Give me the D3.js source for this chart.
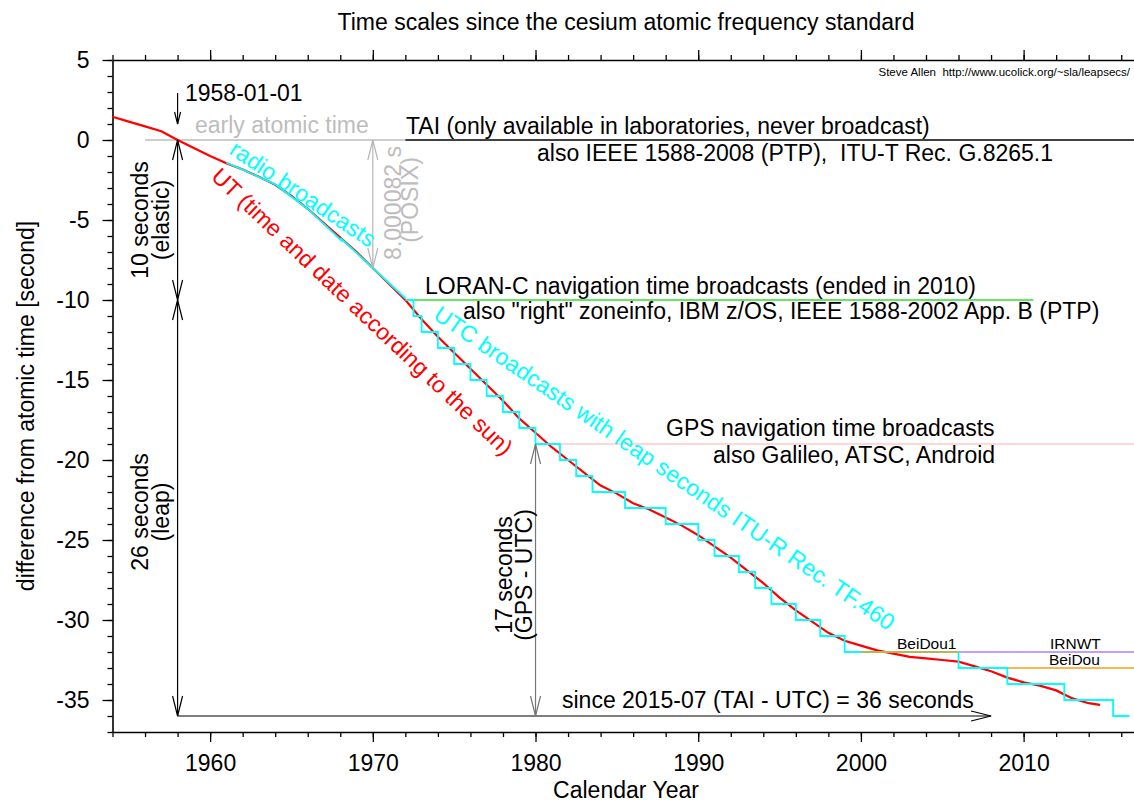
<!DOCTYPE html>
<html>
<head>
<meta charset="utf-8">
<script src="https://cdn.jsdelivr.net/npm/d3@7"></script>
<style>
    body { margin: 0; background: #fff; }
    svg { font-family: "Liberation Sans", Arial, sans-serif; }
    text { white-space: pre; }
</style>
</head>
<body>
<div id="chart"></div>
<script>
// UT1 - TAI, the red curve (seconds)
const utYears = [1954, 1955, 1956, 1957, 1958, 1959, 1960, 1961, 1962, 1963, 1964, 1965, 1966, 1967, 1968,
    1969, 1970, 1971, 1972, 1973, 1974, 1975, 1976, 1977, 1978, 1979, 1980, 1981, 1982, 1983, 1984,
    1985, 1986, 1987, 1988, 1989, 1990, 1991, 1992, 1993, 1994, 1995, 1996, 1997, 1998, 1999, 2000,
    2001, 2002, 2003, 2004, 2005, 2006, 2007, 2008, 2009, 2010, 2011, 2012, 2013, 2014, 2014.7];
const utValues = [1.45, 1.15, 0.85, 0.55, 0.0, -0.5, -1.0, -1.45, -1.85, -2.3, -2.8, -3.5, -4.3, -5.2, -6.1,
    -7.0, -8.0, -9.0, -10.0, -11.2, -12.3, -13.3, -14.3, -15.3, -16.3, -17.4, -18.3, -19.2, -20.0, -20.8, -21.6,
    -22.1, -22.7, -23.1, -23.6, -24.1, -24.7, -25.4, -26.1, -26.9, -27.7, -28.6, -29.4, -30.1, -30.8, -31.3, -31.6,
    -31.9, -32.1, -32.3, -32.4, -32.5, -32.6, -32.9, -33.2, -33.6, -33.9, -34.1, -34.4, -34.9, -35.2, -35.3];

// UTC - TAI before 1972 ("radio broadcasts", elastic seconds)
const radioYears = [1961, 1962, 1964, 1966, 1968.08, 1968.08, 1970, 1972];
const radioValues = [-1.42, -1.85, -2.77, -4.31, -6.29, -6.19, -8.0, -9.89];

// UTC - TAI with leap seconds (step after each date)
const leapYears = [1972, 1972.5, 1973, 1974, 1975, 1976, 1977, 1978, 1979, 1980, 1981.5, 1982.5, 1983.5,
    1985.5, 1988, 1990, 1991, 1992.5, 1993.5, 1994.5, 1996, 1997.5, 1999, 2006, 2009, 2012.5, 2015.5, 2016.5];
const leapValues = [-10, -11, -12, -13, -14, -15, -16, -17, -18, -19, -20, -21, -22,
    -23, -24, -25, -26, -27, -28, -29, -30, -31, -32, -33, -34, -35, -36, -36];

// constant offset time scales
const refNames = ["early", "TAI", "LORAN-C", "GPS", "BeiDou1", "BeiDou", "IRNWT"];
const refStart = [1956, 1972, 1972, 1980, 2000, 2006, 2006];
const refEnd = [1972, 2017, 2010.6, 2017, 2006, 2017, 2017];
const refValues = [0, 0, -10, -19, -32, -33, -32];

// axis ticks
const yearTicks = [1960, 1970, 1980, 1990, 2000, 2010];
const secondTicks = [5, 0, -5, -10, -15, -20, -25, -30, -35];

let chartWidth = 1134;
let chartHeight = 805;
let fontBig = "23px";

let refColor = {
    "early": "#bdbdbd",
    "TAI": "#000",
    "LORAN-C": "#33dd33",
    "GPS": "#ffb0b0",
    "BeiDou1": "#f0a020",
    "BeiDou": "#f0a020",
    "IRNWT": "#b080f0"
};

let x = d3.scaleLinear().domain([1954, 2017]).range([112.5, 1137.5]);
let y = d3.scaleLinear().domain([-37, 5]).range([732, 60]);

let svg = d3.select("#chart").append("svg")
    .attr("width", chartWidth)
    .attr("height", chartHeight);

// axes: minor ticks first, then major with labels
function styleAxis(g) {
    g.selectAll(".domain").attr("stroke-width", 1.6);
    g.selectAll(".tick line").attr("stroke-width", 1.3);
    g.selectAll(".tick text").attr("font-size", fontBig).attr("font-family", "Liberation Sans, Arial, sans-serif");
}

let plainNumber = d => String(d); // keeps the ASCII hyphen as minus sign

svg.append("g")
    .attr("transform", "translate(0," + y(-37) + ")")
    .call(d3.axisBottom(x).tickValues(d3.range(1954, 2018, 2)).tickSize(5).tickSizeOuter(0).tickFormat(() => ""))
    .call(styleAxis);
svg.append("g")
    .attr("transform", "translate(0," + y(-37) + ")")
    .call(d3.axisBottom(x).tickValues(yearTicks).tickSize(10).tickPadding(13).tickFormat(plainNumber))
    .call(styleAxis)
    .call(g => g.select(".domain").remove());

svg.append("g")
    .attr("transform", "translate(0," + y(5) + ")")
    .call(d3.axisTop(x).tickValues(d3.range(1954, 2018, 2)).tickSize(5).tickSizeOuter(0).tickFormat(() => ""))
    .call(styleAxis);
svg.append("g")
    .attr("transform", "translate(0," + y(5) + ")")
    .call(d3.axisTop(x).tickValues(yearTicks).tickSize(10).tickFormat(() => ""))
    .call(styleAxis)
    .call(g => g.select(".domain").remove());

svg.append("g")
    .attr("transform", "translate(" + x(1954) + ",0)")
    .call(d3.axisLeft(y).tickValues(d3.range(-37, 6, 1)).tickSize(5).tickSizeOuter(0).tickFormat(() => ""))
    .call(styleAxis);
svg.append("g")
    .attr("transform", "translate(" + x(1954) + ",0)")
    .call(d3.axisLeft(y).tickValues(secondTicks).tickSize(10).tickPadding(13).tickFormat(plainNumber))
    .call(styleAxis)
    .call(g => g.select(".domain").remove());

// reference lines
svg.selectAll(".ref")
    .data(refNames)
    .enter()
    .append("line")
    .attr("class", "ref")
    .attr("x1", (d, i) => x(refStart[i]))
    .attr("x2", (d, i) => x(refEnd[i]))
    .attr("y1", (d, i) => y(refValues[i]))
    .attr("y2", (d, i) => y(refValues[i]))
    .attr("stroke", d => refColor[d])
    .attr("stroke-width", d => d === "GPS" ? 1.2 : 1.6);

// UT curve
let line = d3.line()
    .x(d => x(d[0]))
    .y(d => y(d[1]));

svg.append("path")
    .datum(d3.zip(utYears, utValues))
    .attr("fill", "none")
    .attr("stroke", "#ff0000")
    .attr("stroke-width", 2.2)
    .attr("d", line);

svg.append("path")
    .datum(d3.zip(radioYears, radioValues))
    .attr("fill", "none")
    .attr("stroke", "#00ffff")
    .attr("stroke-width", 1.8)
    .attr("d", line);

svg.append("path")
    .datum(d3.zip(leapYears, leapValues))
    .attr("fill", "none")
    .attr("stroke", "#00ffff")
    .attr("stroke-width", 1.8)
    .attr("d", line.curve(d3.curveStepAfter));

// redraw BeiDou1 on top of the cyan step
svg.append("line")
    .attr("x1", x(refStart[4])).attr("x2", x(refEnd[4]))
    .attr("y1", y(refValues[4])).attr("y2", y(refValues[4]))
    .attr("stroke", refColor["BeiDou1"]).attr("stroke-width", 1.6);

// arrows with open V heads
function arrow(x1, y1, x2, y2, color, heads, len, half) {
    svg.append("line")
        .attr("x1", x1).attr("y1", y1).attr("x2", x2).attr("y2", y2)
        .attr("stroke", color).attr("stroke-width", 1.2);
    let dx = x2 - x1, dy = y2 - y1;
    let n = Math.sqrt(dx * dx + dy * dy);
    dx /= n; dy /= n;
    let ends = [];
    if (heads.indexOf("end") >= 0) ends.push([x2, y2, dx, dy]);
    if (heads.indexOf("start") >= 0) ends.push([x1, y1, -dx, -dy]);
    ends.forEach(function (e) {
        let bx = e[0] - e[2] * len, by = e[1] - e[3] * len;
        svg.append("path")
            .attr("d", "M" + (bx - e[3] * half) + "," + (by + e[2] * half) +
                "L" + e[0] + "," + e[1] +
                "L" + (bx + e[3] * half) + "," + (by - e[2] * half))
            .attr("fill", "none")
            .attr("stroke", color)
            .attr("stroke-width", 1.2);
    });
}

arrow(x(1958), 93, x(1958), y(0) - 16, "#000", ["end"], 12, 3);
arrow(x(1958), y(0), x(1958), y(-10), "#000", ["start", "end"], 20, 5);
arrow(x(1958), y(-10), x(1958), y(-36), "#000", ["start", "end"], 20, 5);
arrow(x(1958), y(-36), x(2008), y(-36), "#000", ["end"], 20, 5);
arrow(x(1970), y(0), x(1970), y(-8), "#b5b5b5", ["start", "end"], 20, 5);
arrow(x(1980), y(-19), x(1980), y(-36), "#777", ["start", "end"], 20, 5);

// text labels
function label(text, px, py, opts) {
    opts = opts || {};
    return svg.append("text")
        .attr("transform", "translate(" + px + "," + py + ")" + (opts.rotate ? " rotate(" + opts.rotate + ")" : ""))
        .attr("text-anchor", opts.anchor || "start")
        .attr("font-size", opts.size || fontBig)
        .attr("fill", opts.color || "#000")
        .text(text);
}

label("Time scales since the cesium atomic frequency standard", 626, 30, {anchor: "middle"});
label("Calendar Year", 626, 798, {anchor: "middle"});
label("difference from atomic time [second]", 34, 406, {anchor: "middle", rotate: -90});
label("Steve Allen  http://www.ucolick.org/~sla/leapsecs/", 1130, 76, {anchor: "end", size: "11.5px"});

label("1958-01-01", 185, 101);
label("early atomic time", 195, 133, {color: "#bdbdbd"});
label("TAI (only available in laboratories, never broadcast)", 406, 134);
label("also IEEE 1588-2008 (PTP),  ITU-T Rec. G.8265.1", 537, 161);
label("LORAN-C navigation time broadcasts (ended in 2010)", 425, 294);
label("also \"right\" zoneinfo, IBM z/OS, IEEE 1588-2002 App. B (PTP)", 463, 319);
label("GPS navigation time broadcasts", 666, 436);
label("also Galileo, ATSC, Android", 713, 463);
label("since 2015-07 (TAI - UTC) = 36 seconds", 562, 708);

label("BeiDou1", 897, 649, {size: "15.5px"});
label("IRNWT", 1050, 649, {size: "15.5px"});
label("BeiDou", 1049, 665, {size: "15.5px"});

label("10 seconds", 148, 220, {anchor: "middle", rotate: -90});
label("(elastic)", 169, 220, {anchor: "middle", rotate: -90});
label("26 seconds", 148, 512, {anchor: "middle", rotate: -90});
label("(leap)", 169, 512, {anchor: "middle", rotate: -90});
label("17 seconds", 512, 575, {anchor: "middle", rotate: -90});
label("(GPS - UTC)", 532, 575, {anchor: "middle", rotate: -90});
label("8.000082 s", 401, 203, {anchor: "middle", rotate: -90, color: "#bdbdbd"});
label("(POSIX)", 418, 200, {anchor: "middle", rotate: -90, color: "#bdbdbd"});

label("radio broadcasts", 228, 153, {rotate: 34, color: "#00ffff"});
label("UT (time and date according to the sun)", 210, 178, {rotate: 43.5, color: "#ff0000"});
label("UTC broadcasts with leap seconds ITU-R Rec. TF.460", 432, 318, {rotate: 34.5, color: "#00ffff"});
</script>
</body>
</html>
